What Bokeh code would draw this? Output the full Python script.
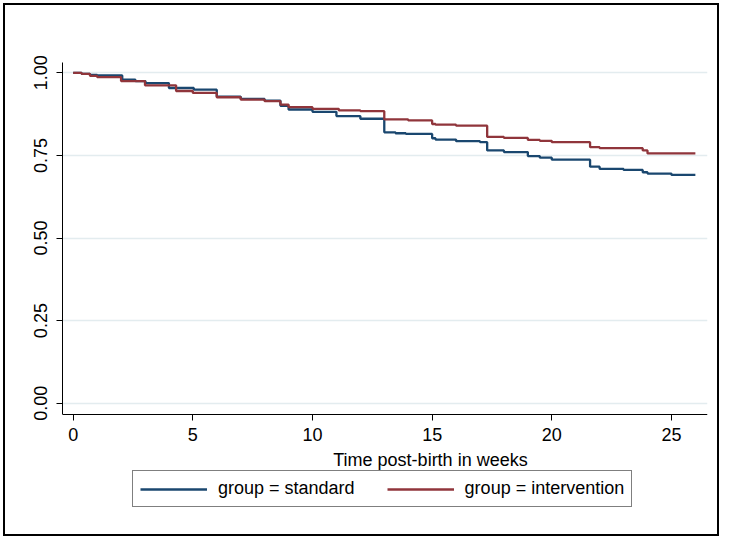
from bokeh.plotting import figure
from bokeh.models import Range1d, FixedTicker, Legend, Label, PrintfTickFormatter
from bokeh.embed import file_html
from bokeh.resources import INLINE

# Kaplan-Meier estimates
std_time = [0, 0.35, 0.7, 1.0, 2.05, 2.6, 3.02, 4.0, 5.04, 6.0, 7.0, 8.0, 8.66, 9.0,
            10.0, 11.0, 12.0, 13.0, 13.47, 13.9, 15.0, 15.14, 16.0, 17.0, 17.3, 18.0,
            19.0, 19.5, 20.0, 21.6, 22.0, 23.0, 23.8, 24.0, 25.0, 26.0]
std_surv = [1.000, 0.997, 0.994, 0.992, 0.979, 0.975, 0.969, 0.954, 0.949, 0.928, 0.921,
            0.916, 0.900, 0.889, 0.882, 0.869, 0.861, 0.820, 0.817, 0.815, 0.802, 0.798,
            0.793, 0.790, 0.765, 0.760, 0.748, 0.743, 0.737, 0.716, 0.709, 0.706, 0.699,
            0.695, 0.691, 0.691]

int_time = [0, 0.35, 0.7, 1.0, 2.0, 3.0, 4.3, 5.0, 6.0, 7.0, 8.0, 8.66, 9.0, 10.0, 11.1,
            12.0, 13.0, 14.0, 15.0, 15.14, 16.0, 17.3, 18.0, 19.0, 19.5, 20.0, 21.6, 22.0,
            23.8, 24.0, 26.0]
int_surv = [1.000, 0.997, 0.991, 0.987, 0.975, 0.962, 0.945, 0.939, 0.926, 0.919, 0.914,
            0.904, 0.896, 0.891, 0.886, 0.884, 0.859, 0.856, 0.845, 0.843, 0.840, 0.806,
            0.803, 0.797, 0.794, 0.790, 0.775, 0.772, 0.765, 0.756, 0.756]

x_ticks = [0, 5, 10, 15, 20, 25]
y_ticks = [0, 0.25, 0.5, 0.75, 1.0]
x_title = "Time post-birth in weeks"
series_names = ["group = standard", "group = intervention"]

FONT = "Liberation Sans"
BLUE = "#1a476f"
RED = "#90353b"

Y_AXIS_BOTTOM = -0.0342
Y_AXIS_TOP = 1.0312

p = figure(width=716, height=533, output_backend="svg", toolbar_location=None,
           x_range=Range1d(-0.447, 26.507), y_range=Range1d(-0.3974, Y_AXIS_TOP),
           min_border_left=57, min_border_right=14, min_border_top=57,
           min_border_bottom=4)
p.styles = {"border": "2px solid black", "margin-left": "3px", "margin-top": "3px"}
p.background_fill_color = "white"
p.border_fill_color = "white"
p.outline_line_color = None

r1 = p.step(std_time, std_surv, mode="after", line_color=BLUE, line_width=2.3)
r2 = p.step(int_time, int_surv, mode="after", line_color=RED, line_width=2.3)

p.xaxis.fixed_location = Y_AXIS_BOTTOM
p.yaxis.bounds = (Y_AXIS_BOTTOM, Y_AXIS_TOP)
p.xaxis.ticker = FixedTicker(ticks=x_ticks)
p.yaxis.ticker = FixedTicker(ticks=y_ticks)
p.yaxis.formatter = PrintfTickFormatter(format="%.2f")
p.yaxis.major_label_orientation = "vertical"
for ax in (p.xaxis, p.yaxis):
    ax.axis_line_color = "black"
    ax.axis_line_width = 1
    ax.major_tick_line_color = "black"
    ax.major_tick_in = 0
    ax.major_tick_out = 6
    ax.minor_tick_line_color = None
    ax.major_label_text_font = FONT
    ax.major_label_text_font_size = "18px"
    ax.major_label_text_color = "black"
    ax.major_label_standoff = 7
p.yaxis.major_label_standoff = 9

p.xgrid.grid_line_color = None
p.ygrid.grid_line_color = "#e3ecef"
p.ygrid.grid_line_width = 1.5

p.add_layout(Label(x=14.93, y=-0.173, text=x_title, text_align="center",
                   text_baseline="alphabetic", text_font=FONT, text_font_size="18px",
                   text_color="black"))

legend = Legend(items=[(series_names[0], [r1]), (series_names[1], [r2])],
                orientation="horizontal", location=(70, 27),
                label_text_font=FONT, label_text_font_size="18px",
                label_text_color="black",
                glyph_width=67, glyph_height=20, label_standoff=11, spacing=32,
                padding=7, margin=0, border_line_color="black", border_line_width=1,
                background_fill_color="white", background_fill_alpha=1.0)
p.add_layout(legend)

open("out.html", "w").write(file_html(p, INLINE))
